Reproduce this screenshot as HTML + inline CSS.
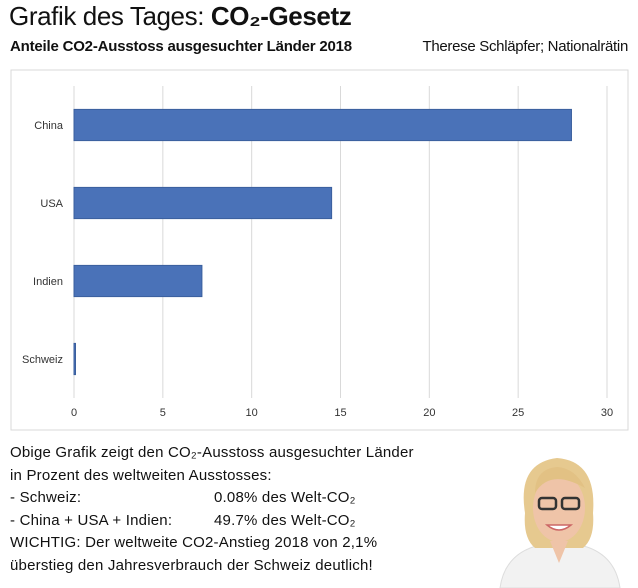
<!DOCTYPE html>
<html><head><meta charset="utf-8"><style>
body{margin:0;width:638px;height:588px;background:#fff;font-family:"Liberation Sans",sans-serif;position:relative;overflow:hidden;color:#111}
.t{position:absolute;white-space:nowrap}
</style></head><body>
<div class="t" style="left:9px;top:1px;font-size:26px;letter-spacing:-0.4px">Grafik des Tages: <b>CO₂-Gesetz</b></div>
<div class="t" style="left:10px;top:38px;font-size:15px;font-weight:bold;letter-spacing:-0.2px">Anteile CO2-Ausstoss ausgesuchter Länder 2018</div>
<div class="t" style="right:10px;top:38px;font-size:15px;letter-spacing:-0.3px">Therese Schläpfer; Nationalrätin</div>
<svg id="chart" width="638" height="588" style="position:absolute;left:0;top:0">
<rect x="11" y="70" width="617" height="360" fill="#fff" stroke="#d9d9d9"/>
</svg>
<div class="t" style="left:10px;top:442px;font-size:15px;line-height:22.6px;letter-spacing:0.2px">
Obige Grafik zeigt den CO₂-Ausstoss ausgesuchter Länder<br>in Prozent des weltweiten Ausstosses:<br>- Schweiz:<span style="position:absolute;left:204px">0.08% des Welt-CO₂</span><br>- China + USA + Indien:<span style="position:absolute;left:204px">49.7% des Welt-CO₂</span><br>WICHTIG: Der weltweite CO2-Anstieg 2018 von 2,1%<br>überstieg den Jahresverbrauch der Schweiz deutlich!</div>
<svg width="130" height="135" style="position:absolute;left:495px;top:453px">
<path d="M5 135 Q10 100 45 92 L85 92 Q120 100 125 135Z" fill="#f2f2f2" stroke="#ddd"/>
<path d="M30 60 Q22 10 62 5 Q102 8 98 60 Q100 85 88 95 L40 95 Q28 85 30 60Z" fill="#e6c98f"/>
<ellipse cx="64" cy="55" rx="26" ry="34" fill="#efc4a8"/>
<path d="M40 40 Q55 15 90 35 Q80 15 62 14 Q40 16 40 40Z" fill="#e2c184"/>
<rect x="44" y="45" width="17" height="11" rx="3" fill="none" stroke="#333" stroke-width="2.5"/>
<rect x="67" y="45" width="17" height="11" rx="3" fill="none" stroke="#333" stroke-width="2.5"/>
<path d="M52 72 Q64 82 76 72Z" fill="#fff" stroke="#c66" stroke-width="1.5"/>
<path d="M55 88 L64 110 L73 88Z" fill="#efc4a8"/>
</svg>
<script>
const categories=["China","USA","Indien","Schweiz"];
const values=[28,14.5,7.2,0.08];
const ticks=[0,5,10,15,20,25,30];
const NS="http://www.w3.org/2000/svg";
const svg=document.getElementById("chart");
const x0=74,x1=607,yTop=86,yBot=398;
const xs=v=>x0+v*(x1-x0)/30;
const band=(yBot-yTop)/categories.length;
const yc=i=>yTop+band*(i+0.5);
function mk(t,a){const e=document.createElementNS(NS,t);for(const k in a)e.setAttribute(k,a[k]);svg.appendChild(e);return e;}
ticks.forEach(t=>{
 const l=mk("line",{x1:xs(t),x2:xs(t),y1:yTop,y2:yBot,stroke:"#d9d9d9"});
 
 
 const tx=mk("text",{x:xs(t),y:416,"text-anchor":"middle","font-size":"11","fill":"#333","font-family":"Liberation Sans"});
 tx.textContent=t;
 
 
});
categories.forEach((c,i)=>{
 const h=band*0.4;
 const r=mk("rect",{x:xs(0),y:yc(i)-h/2,width:Math.max(1.5,xs(values[i])-xs(0)),height:h,fill:"#4a72b8",stroke:"#3a5f9e"});
 
 
 const tx=mk("text",{x:63,y:yc(i)+4,"text-anchor":"end","font-size":"11","fill":"#333","font-family":"Liberation Sans"});
 tx.textContent=c;
 
 
});
</script>
</body></html>
